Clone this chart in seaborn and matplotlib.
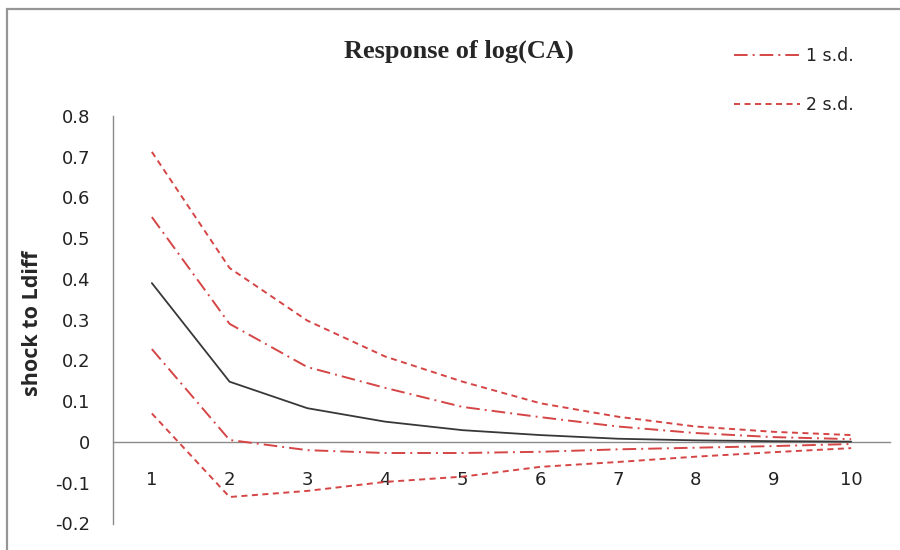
import matplotlib
matplotlib.use("Agg")
import matplotlib.pyplot as plt
import seaborn as sns
import pandas as pd
from matplotlib.patches import Rectangle

periods = [1, 2, 3, 4, 5, 6, 7, 8, 9, 10]
response = [0.39, 0.148, 0.083, 0.05, 0.029, 0.017, 0.008, 0.004, 0.002, 0.001]
upper_1sd = [0.552, 0.29, 0.184, 0.133, 0.086, 0.061, 0.038, 0.022, 0.012, 0.007]
lower_1sd = [0.228, 0.005, -0.02, -0.027, -0.027, -0.024, -0.018, -0.014, -0.01, -0.005]
upper_2sd = [0.712, 0.427, 0.298, 0.21, 0.148, 0.095, 0.062, 0.038, 0.025, 0.017]
lower_2sd = [0.07, -0.135, -0.12, -0.098, -0.085, -0.061, -0.049, -0.036, -0.025, -0.015]
yticks = [-0.2, -0.1, 0, 0.1, 0.2, 0.3, 0.4, 0.5, 0.6, 0.7, 0.8]
ytick_labels = ["-0.2", "-0.1", "0", "0.1", "0.2", "0.3", "0.4", "0.5", "0.6", "0.7", "0.8"]
title = "Response of log(CA)"
ylabel = "shock to Ldiff"
legend_labels = ["1 s.d.", "2 s.d."]

sns.set_theme(style="white")
plt.rcParams["font.family"] = ["DejaVu Sans"]

fig = plt.figure(figsize=(9, 5.5), dpi=100)
fig.patches.append(Rectangle((7 / 900, -0.5), 2, 1.5 - 9 / 550, transform=fig.transFigure,
                             fill=False, edgecolor="#959595", linewidth=1.6))
ax = fig.add_axes([113 / 900, 1 - 523.5 / 550, (890 - 113) / 900, (523.5 - 116) / 550])

red = "#d64545"
df = pd.DataFrame({"period": periods, "response": response,
                   "u1": upper_1sd, "l1": lower_1sd, "u2": upper_2sd, "l2": lower_2sd})

dashdot = (7.0, 2.6, 1.0, 2.6)
shortdash = (3.1, 2.3)
sns.lineplot(data=df, x="period", y="u1", ax=ax, color=red, lw=1.4)
ax.lines[-1].set_dashes(dashdot)
h1 = ax.lines[-1]
sns.lineplot(data=df, x="period", y="l1", ax=ax, color=red, lw=1.4)
ax.lines[-1].set_dashes(dashdot)
sns.lineplot(data=df, x="period", y="u2", ax=ax, color=red, lw=1.4)
ax.lines[-1].set_dashes(shortdash)
h2 = ax.lines[-1]
sns.lineplot(data=df, x="period", y="l2", ax=ax, color=red, lw=1.4)
ax.lines[-1].set_dashes(shortdash)
sns.lineplot(data=df, x="period", y="response", ax=ax, color="#383838", lw=1.3)

ax.set_xlim(0.5, 10.5)
ax.set_ylim(-0.2, 0.8)
ax.set_xticks(periods)
ax.set_xticklabels([str(p) for p in periods])
ax.set_yticks(yticks)
ax.set_yticklabels(ytick_labels)
ax.set_xlabel("")
ax.set_ylabel("")

for s in ["top", "right"]:
    ax.spines[s].set_visible(False)
ax.spines["bottom"].set_position(("data", 0))
ax.spines["bottom"].set_color("#8a8a8a")
ax.spines["bottom"].set_linewidth(1.0)
ax.spines["left"].set_color("#8a8a8a")
ax.spines["left"].set_linewidth(1.0)
ax.spines["bottom"].set_zorder(0)
ax.tick_params(axis="x", length=0, pad=21, labelsize=13, labelcolor="#222222")
ax.tick_params(axis="y", length=0, pad=16.5, labelsize=13, labelcolor="#222222")
ax.grid(False)

fig.text(459 / 900, 1 - 51 / 550, title, ha="center", va="center",
         fontsize=19, fontweight="bold", family=["Liberation Serif", "DejaVu Serif"])
fig.text(33 / 900, 1 - 323 / 550, ylabel, ha="center", va="center", rotation=90,
         fontsize=15.5, fontweight="bold", family=["Open Sans", "DejaVu Sans"])

leg = fig.legend([h1, h2], legend_labels, loc="upper left",
                 bbox_to_anchor=(718 / 900, 1 - 31 / 550), frameon=False,
                 handlelength=3.8, handletextpad=0.35, labelspacing=1.8, fontsize=12.5)
for t in leg.get_texts():
    t.set_color("#222222")

fig.savefig("out.png", dpi=100)
